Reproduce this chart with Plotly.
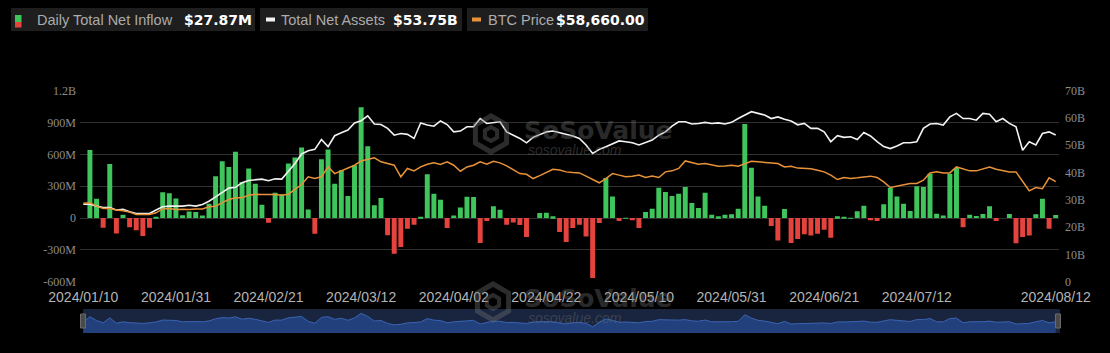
import pandas as pd
import plotly.graph_objects as go

# ---------------- data ----------------
holidays = ["2024-01-15", "2024-02-19", "2024-03-29", "2024-05-27", "2024-06-19", "2024-07-04"]
days = [d for d in pd.bdate_range("2024-01-10", "2024-08-12") if d.strftime("%Y-%m-%d") not in holidays]
dates = [d.strftime("%Y/%m/%d") for d in days]

tick_labels = ["2024/01/10", "2024/01/31", "2024/02/21", "2024/03/12", "2024/04/02", "2024/04/22",
               "2024/05/10", "2024/05/31", "2024/06/21", "2024/07/12", "2024/08/12"]

# Daily total net inflow (USD millions)
inflow_m = [None, 640, 182, -92, 510, -145, 32, -87, -115, -170,
            -92, 8, 242, 234, 184, 27, 62, 56, 23, 135,
            394, 536, 482, 625, 340, 466, 324, 126, -44, 239,
            225, 513, 570, 664, 80, -148, 553, 645, 324, 450,
            208, 497, 1045, 676, 120, 189, -163, -336, -273, -100,
            -63, 6, 412, 230, 173, -94, 25, 100, 201, 198,
            -236, -28, 110, 79, -63, -41, -66, -179, 0, 47,
            50, 16, -132, -226, -94, -63, -173, -564, -47, 378,
            204, -28, 3, -20, -94, 57, 88, 286, 245, 208,
            230, 292, 142, 94, 239, 31, 16, 31, 35, 88,
            886, 475, 204, 116, -75, -211, 85, -236, -198, -154,
            -164, -148, -110, -185, 16, 10, 3, 63, 116, -20,
            -28, 129, 286, 204, 135, 66, 299, 292, 418, 41,
            25, 418, 472, -88, 31, 19, 38, 110, -28, 0,
            38, -237, -179, -164, 35, 182, -100, 27.87]

# Total net assets (USD billions)
assets_b = [28.4, 28.4, 27.7, 27.2, 27.2, 26.3, 26.5, 25.6, 25.0, 25.0,
            25.0, 26.3, 27.5, 27.7, 27.7, 27.7, 28.0, 27.7, 28.3, 29.5,
            31.1, 32.7, 34.3, 34.6, 36.3, 37.1, 37.4, 37.6, 37.0, 37.7,
            37.6, 40.3, 43.3, 46.8, 48.0, 48.5, 52.1, 49.5, 53.5, 54.6,
            55.6, 58.2, 59.0, 60.8, 57.8, 57.6, 56.2, 53.7, 54.3, 54.0,
            52.5, 58.2, 57.4, 57.0, 58.9, 57.6, 54.9, 55.2, 56.8, 56.8,
            59.8, 58.0, 58.2, 58.6, 54.9, 53.7, 52.5, 50.9, 52.9, 53.9,
            54.9, 55.2, 54.6, 54.0, 53.4, 52.5, 50.1, 47.0, 48.5, 49.5,
            50.7, 51.6, 51.3, 50.9, 50.1, 51.0, 51.9, 53.7, 54.9, 57.0,
            58.6, 58.6, 57.8, 58.0, 58.4, 58.0, 58.2, 57.8, 58.4, 59.8,
            61.1, 62.3, 61.7, 61.1, 59.8, 60.4, 59.5, 58.9, 57.5, 58.0,
            56.2, 56.2, 54.9, 51.3, 53.5, 52.9, 53.1, 52.1, 54.7, 53.4,
            51.3, 49.5, 48.8, 49.7, 50.9, 50.9, 51.3, 56.2, 57.8, 58.0,
            57.4, 60.4, 61.7, 59.8, 59.8, 59.2, 61.7, 61.4, 58.6, 59.8,
            58.0, 56.8, 48.2, 51.3, 50.1, 54.3, 54.9, 53.75]

# BTC price (USD thousands)
btc_k = [46.0, 46.3, 44.3, 42.9, 42.9, 42.0, 41.6, 40.8, 39.4, 39.4,
         39.4, 40.4, 42.7, 42.9, 42.3, 42.5, 42.3, 42.7, 42.7, 43.9,
         44.3, 46.4, 48.2, 49.2, 49.2, 50.7, 51.3, 51.1, 51.3, 51.1,
         50.7, 51.3, 54.1, 57.0, 61.5, 60.5, 61.5, 67.3, 63.4, 65.0,
         66.4, 68.3, 70.8, 71.6, 72.6, 70.3, 69.3, 68.3, 61.5, 66.4,
         65.0, 67.3, 68.9, 69.7, 68.7, 70.3, 68.3, 64.8, 67.3, 68.3,
         70.3, 68.9, 70.6, 69.7, 67.9, 65.4, 63.4, 63.0, 60.5, 62.2,
         64.1, 65.9, 65.5, 64.4, 64.0, 63.8, 61.9, 59.9, 58.0, 60.5,
         63.4, 62.5, 61.5, 61.9, 62.5, 61.1, 61.9, 61.1, 64.4, 65.0,
         66.4, 70.8, 69.7, 68.9, 69.3, 68.3, 67.7, 67.9, 68.3, 67.7,
         69.3, 70.6, 70.3, 69.9, 69.3, 69.3, 67.3, 67.7, 66.6, 66.4,
         66.2, 65.4, 64.4, 62.5, 59.9, 61.1, 60.5, 60.9, 61.5, 61.9,
         61.1, 58.5, 55.2, 56.0, 57.2, 57.6, 57.6, 59.5, 63.8, 64.4,
         63.8, 63.8, 67.3, 66.0, 65.0, 65.0, 66.0, 67.3, 66.0, 65.4,
         64.4, 64.4, 58.5, 53.3, 55.2, 54.5, 60.9, 58.66]

left_tickvals = [-600e6, -300e6, 0, 300e6, 600e6, 900e6, 1.2e9]
left_ticktext = ["-600M", "-300M", "0", "300M", "600M", "900M", "1.2B"]
right_tickvals = [0, 10e9, 20e9, 30e9, 40e9, 50e9, 60e9, 70e9]
right_ticktext = ["0", "10B", "20B", "30B", "40B", "50B", "60B", "70B"]

legend_names = ["Daily Total Net Inflow", "Total Net Assets", "BTC Price"]
legend_values = ["$27.87M", "$53.75B", "$58,660.00"]

# ---------------- derived ----------------
inflow = [None if v is None else v * 1e6 for v in inflow_m]
assets = [v * 1e9 for v in assets_b]
btc = [v * 1e3 for v in btc_k]
GREEN, RED, WHITE, ORANGE = "#3fc55b", "#e4433e", "#f2f2f2", "#e8923a"
bar_colors = [GREEN if (v is not None and v >= 0) else RED for v in inflow]

W, H = 1110, 353
ML, MR, MT, MB = 80, 51, 80, 15
PW, PH = W - ML - MR, H - MT - MB


def px(x):
    return (x - ML) / PW


def py(y):
    return (H - MB - y) / PH


fig = go.Figure()

fig.add_trace(go.Bar(x=dates, y=inflow, marker=dict(color=bar_colors, line=dict(width=0)),
                     name=legend_names[0], yaxis="y", xaxis="x"))
fig.add_trace(go.Scatter(x=dates, y=assets, mode="lines", line=dict(color=WHITE, width=1.6),
                         name=legend_names[1], yaxis="y2", xaxis="x"))
fig.add_trace(go.Scatter(x=dates, y=btc, mode="lines", line=dict(color=ORANGE, width=1.5),
                         name=legend_names[2], yaxis="y3", xaxis="x"))

# mini navigator chart
mini_lo, mini_hi = -1.32e9, 1.57e9
mini_vals = [0 if v is None else v for v in inflow]
fig.add_trace(go.Scatter(x=dates, y=[mini_lo] * len(dates), mode="lines", line=dict(width=0),
                         xaxis="x2", yaxis="y4", hoverinfo="skip"))
fig.add_trace(go.Scatter(x=dates, y=mini_vals, mode="lines", fill="tonexty",
                         fillcolor="#22407c", line=dict(color="#3b63b3", width=1),
                         xaxis="x2", yaxis="y4", hoverinfo="skip"))

main_dom = [py(281.7), py(90.7)]
mini_dom = [py(333), py(309)]

fig.update_layout(
    width=W, height=H,
    margin=dict(l=ML, r=MR, t=MT, b=MB, autoexpand=False),
    paper_bgcolor="#000000", plot_bgcolor="#000000",
    showlegend=False,
    bargap=0.25,
    xaxis=dict(type="category", range=[-0.5, len(dates) - 0.5], domain=[0, 1],
               tickmode="array", tickvals=tick_labels, ticktext=tick_labels,
               showgrid=False, zeroline=False, showline=False, ticks="",
               ticklabelstandoff=5, automargin=False,
               tickfont=dict(family="Liberation Sans Narrow, Liberation Sans", size=14, color="#b4b4b4"),
               anchor="y", fixedrange=True),
    yaxis=dict(domain=main_dom, range=[-600e6, 1.2e9], tickmode="array",
               tickvals=left_tickvals, ticktext=left_ticktext,
               showgrid=True, gridcolor="#303030", gridwidth=1, zeroline=False,
               tickfont=dict(family="Liberation Serif", size=12, color="#8c8c8c"),
               ticks="", showline=False, automargin=False, ticklabelstandoff=3),
    yaxis2=dict(overlaying="y", side="right", range=[0, 70e9], tickmode="array",
                tickvals=right_tickvals, ticktext=right_ticktext, showgrid=False, zeroline=False,
                tickfont=dict(family="Liberation Serif", size=12, color="#8c8c8c"),
                ticks="", showline=False, automargin=False, ticklabelstandoff=5),
    yaxis3=dict(overlaying="y", range=[0, 112000], visible=False, automargin=False),
    xaxis2=dict(type="category", range=[-0.5, len(dates) - 0.5], domain=[0, 1],
                anchor="y4", visible=False, automargin=False),
    yaxis4=dict(domain=mini_dom, range=[mini_lo, mini_hi], visible=False, anchor="x2", automargin=False),
)

shapes = []
# navigator background
shapes.append(dict(type="rect", xref="paper", yref="paper", x0=px(83), x1=px(1060), y0=py(333), y1=py(309),
                   fillcolor="#19253f", line=dict(width=0), layer="below"))
# handles
for hx in (83, 1058):
    shapes.append(dict(type="rect", xref="paper", yref="paper", x0=px(hx - 2.5), x1=px(hx + 2.5),
                       y0=py(328), y1=py(314), fillcolor="#4a4a4a", line=dict(color="#6a6a6a", width=1)))

# legend boxes
boxes = [(11, 255), (260, 462), (467, 648)]
for x0, x1 in boxes:
    shapes.append(dict(type="rect", xref="paper", yref="paper", x0=px(x0), x1=px(x1), y0=py(31), y1=py(8),
                       fillcolor="#1e1e1e", line=dict(width=0)))
# icons
shapes.append(dict(type="rect", xref="paper", yref="paper", x0=px(15), x1=px(21.5), y0=py(22), y1=py(15),
                   fillcolor=GREEN, line=dict(width=0)))
shapes.append(dict(type="rect", xref="paper", yref="paper", x0=px(15), x1=px(21.5), y0=py(27.5), y1=py(22),
                   fillcolor=RED, line=dict(width=0)))
shapes.append(dict(type="line", xref="paper", yref="paper", x0=px(266), x1=px(275), y0=py(19.5), y1=py(19.5),
                   line=dict(color=WHITE, width=4)))
shapes.append(dict(type="line", xref="paper", yref="paper", x0=px(472), x1=px(481), y0=py(19.5), y1=py(19.5),
                   line=dict(color=ORANGE, width=4)))


# watermark logos (hexagon cubes)
def hexpath(cx, cy, r):
    import math
    pts = []
    for k in range(6):
        a = math.radians(90 + 60 * k)
        pts.append((px(cx + r * math.cos(a)), py(cy - r * math.sin(a))))
    d = "M " + " L ".join(f"{a},{b}" for a, b in pts) + " Z"
    return d


for cx, cy in ((491, 134), (493, 302)):
    shapes.append(dict(type="path", xref="paper", yref="paper", path=hexpath(cx, cy, 18),
                       line=dict(color="rgba(110,110,110,0.4)", width=5), fillcolor="rgba(0,0,0,0)"))
    shapes.append(dict(type="path", xref="paper", yref="paper", path=hexpath(cx, cy, 7),
                       line=dict(color="rgba(110,110,110,0.4)", width=4), fillcolor="rgba(0,0,0,0)"))

fig.update_layout(shapes=shapes)

ann = []
texts = [(36, legend_names[0], 183, legend_values[0]),
         (280, legend_names[1], 392, legend_values[1]),
         (487, legend_names[2], 555, legend_values[2])]
for tx, name, vx, val in texts:
    ann.append(dict(xref="paper", yref="paper", x=px(tx - 1), y=py(19.5), xanchor="left", yanchor="middle",
                    text=name, showarrow=False,
                    font=dict(family="Liberation Sans", size=14.5, color="#ababab")))
    ann.append(dict(xref="paper", yref="paper", x=px(vx - 1), y=py(19.5), xanchor="left", yanchor="middle",
                    text=f"<b>{val}</b>", showarrow=False,
                    font=dict(family="DejaVu Sans", size=14, color="#ffffff")))

for wy in (130, 298):
    ann.append(dict(xref="paper", yref="paper", x=px(522), y=py(wy), xanchor="left", yanchor="middle",
                    text="<b>SoSoValue</b>", showarrow=False,
                    font=dict(family="DejaVu Sans", size=25, color="rgba(110,110,110,0.4)")))
    ann.append(dict(xref="paper", yref="paper", x=px(526), y=py(wy + 20), xanchor="left", yanchor="middle",
                    text="<i>sosovalue.com</i>", showarrow=False,
                    font=dict(family="Liberation Sans", size=14, color="rgba(110,110,110,0.4)")))

fig.update_layout(annotations=ann)

fig.write_html("out.html")
